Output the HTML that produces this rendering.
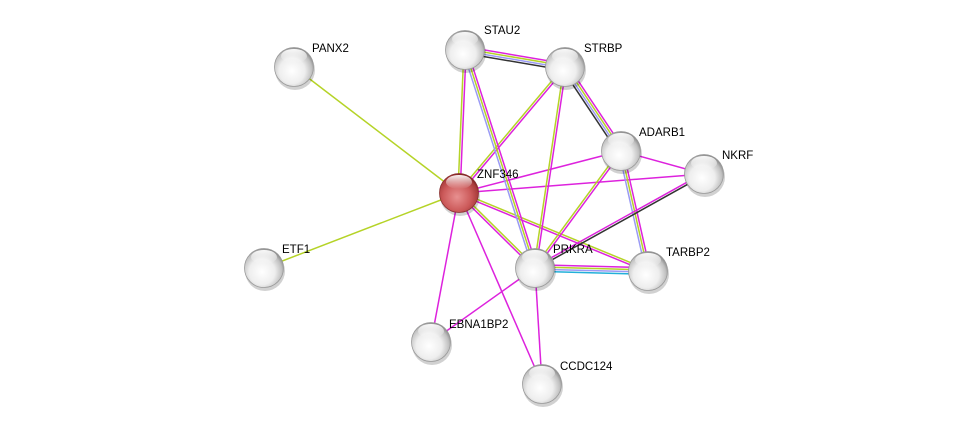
<!DOCTYPE html>
<html><head><meta charset="utf-8"><style>
html,body{margin:0;padding:0;background:#fff;width:975px;height:430px;overflow:hidden}
svg text{font-family:"Liberation Sans",sans-serif;font-size:11.5px;fill:#000}
</style></head><body>
<svg id="s" width="975" height="430" viewBox="0 0 975 430" xmlns="http://www.w3.org/2000/svg">
<defs>
<radialGradient id="g" cx="0.45" cy="0.6" r="0.6">
<stop offset="0" stop-color="#ffffff"/><stop offset="0.55" stop-color="#eeeeee"/><stop offset="0.85" stop-color="#c0c0c0"/><stop offset="1" stop-color="#8a8a8a"/>
</radialGradient>
<radialGradient id="r" cx="0.45" cy="0.6" r="0.6">
<stop offset="0" stop-color="#e89090"/><stop offset="0.6" stop-color="#cc5a5a"/><stop offset="0.9" stop-color="#a83a3a"/><stop offset="1" stop-color="#7a2020"/>
</radialGradient>
<linearGradient id="h" x1="0" y1="0" x2="0" y2="1">
<stop offset="0" stop-color="#fff" stop-opacity="0.95"/><stop offset="1" stop-color="#fff" stop-opacity="0"/>
</linearGradient>
</defs>
<g id="e"></g><g id="n"></g>
</svg>
<script>
var N={PANX2:[294,67],STAU2:[465,50],STRBP:[565,67],ADARB1:[621,151],NKRF:[704,174],ZNF346:[459,193],ETF1:[264,268],PRKRA:[535,268],TARBP2:[648,271],EBNA1BP2:[431,342],CCDC124:[542,384]};
var M="#dd22dd",Y="#b5d327",B="#9a9af5",K="#333333",C="#22b0d8";
var E=[["PANX2","ZNF346",[Y]],["ETF1","ZNF346",[Y]],["ZNF346","STAU2",[Y,M]],["ZNF346","STRBP",[Y,M]],
["ZNF346","ADARB1",[M]],["ZNF346","NKRF",[M]],["ZNF346","PRKRA",[Y,M]],["ZNF346","TARBP2",[Y,M]],
["ZNF346","EBNA1BP2",[M]],["ZNF346","CCDC124",[M]],["STAU2","STRBP",[M,Y,B,K]],["STAU2","PRKRA",[M,Y,B]],
["STRBP","PRKRA",[M,Y]],["STRBP","ADARB1",[M,Y,B,K]],["ADARB1","NKRF",[M]],["ADARB1","PRKRA",[M,Y]],
["ADARB1","TARBP2",[M,Y,B]],["NKRF","PRKRA",[K,M]],["PRKRA","TARBP2",[M,Y,B,C]],["PRKRA","EBNA1BP2",[M]],["PRKRA","CCDC124",[M]]];
var ns="http://www.w3.org/2000/svg",ge=document.getElementById("e"),gn=document.getElementById("n");
E.forEach(function(e){var a=N[e[0]],b=N[e[1]],dx=b[0]-a[0],dy=b[1]-a[1],L=Math.hypot(dx,dy),px=-dy/L,py=dx/L,c=e[2],n=c.length;
c.forEach(function(col,i){var o=(i-(n-1)/2)*2.2;var l=document.createElementNS(ns,"line");
l.setAttribute("x1",a[0]+px*o);l.setAttribute("y1",a[1]+py*o);l.setAttribute("x2",b[0]+px*o);l.setAttribute("y2",b[1]+py*o);
l.setAttribute("stroke",col);l.setAttribute("stroke-width","1.5");ge.appendChild(l);});});
var lab={PANX2:[312,52],STAU2:[484,34],STRBP:[584,52],ADARB1:[639,136],NKRF:[722,159],ZNF346:[477,178],ETF1:[282,253],PRKRA:[553,253],TARBP2:[666,256],EBNA1BP2:[449,328],CCDC124:[560,370]};
for(var k in N){var p=N[k];
var s=document.createElementNS(ns,"ellipse");s.setAttribute("cx",p[0]+1);s.setAttribute("cy",p[1]+3);s.setAttribute("rx",20);s.setAttribute("ry",20);s.setAttribute("fill","#000");s.setAttribute("opacity","0.18");gn.appendChild(s);
var c=document.createElementNS(ns,"circle");c.setAttribute("cx",p[0]);c.setAttribute("cy",p[1]);c.setAttribute("r",19.5);c.setAttribute("fill",k=="ZNF346"?"url(#r)":"url(#g)");c.setAttribute("stroke",k=="ZNF346"?"#8a3030":"#999");c.setAttribute("stroke-width","0.8");gn.appendChild(c);
var h=document.createElementNS(ns,"ellipse");h.setAttribute("cx",p[0]);h.setAttribute("cy",p[1]-11);h.setAttribute("rx",13);h.setAttribute("ry",7);h.setAttribute("fill","url(#h)");gn.appendChild(h);
var t=document.createElementNS(ns,"text");t.setAttribute("x",lab[k][0]);t.setAttribute("y",lab[k][1]);t.textContent=k;gn.appendChild(t);}
</script>
</body></html>
